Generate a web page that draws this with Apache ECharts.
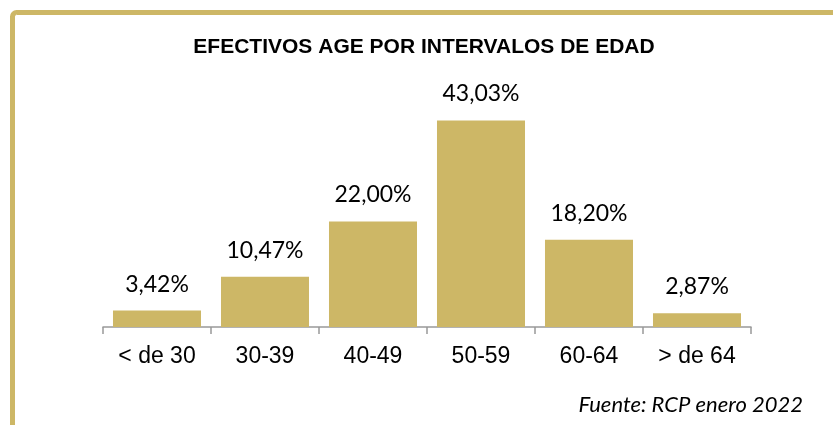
<!DOCTYPE html>
<html><head><meta charset="utf-8">
<script src="https://cdn.jsdelivr.net/npm/echarts@6/dist/echarts.min.js"></script>
<style>html,body{margin:0;padding:0;background:#fff}#c{width:833px;height:425px}</style>
</head><body><div id="c"></div>
<script>
var categories = ['< de 30', '30-39', '40-49', '50-59', '60-64', '> de 64'];
var values = [3.42, 10.47, 22.00, 43.03, 18.20, 2.87];
var titleText = 'EFECTIVOS AGE POR INTERVALOS DE EDAD';
var sourceText = 'Fuente: RCP enero 2022';

var chart = echarts.init(document.getElementById('c'), null, {renderer: 'canvas'});
chart.setOption({
  animation: false,
  title: {
    text: titleText, left: 419, top: 32, textAlign: 'center',
    textStyle: {fontFamily: 'Liberation Sans, Arial', fontWeight: 'bold', fontSize: 21, color: '#000'}
  },
  graphic: [
    {type: 'rect', shape: {x: 12.5, y: 12.5, width: 900, height: 500, r: 4},
     style: {fill: 'none', stroke: '#CDB766', lineWidth: 5}, z: 10},
    {type: 'text', right: 30, top: 394,
     style: {text: sourceText, fontFamily: 'Lato, Open Sans', fontStyle: 'italic', fontSize: 22, fill: '#000'}}
  ],
  grid: {left: 103, right: 82, top: 87, bottom: 98},
  xAxis: {
    type: 'category', data: categories,
    axisLine: {lineStyle: {color: '#999', width: 1.5}},
    axisTick: {show: true, length: 7, lineStyle: {color: '#999', width: 1.5}},
    axisLabel: {fontFamily: 'Liberation Sans, Arial', fontSize: 23, color: '#000', margin: 18}
  },
  yAxis: {type: 'value', min: 0, max: 50, show: false, splitLine: {show: false}},
  series: [{
    type: 'bar', data: values, barCategoryGap: '18.5%',
    itemStyle: {color: '#CDB766'},
    label: {
      show: true, position: 'top', distance: 15,
      fontFamily: 'Lato, Open Sans', fontSize: 23, color: '#000',
      formatter: function (p) { return p.value.toFixed(2).replace('.', ',') + '%'; }
    }
  }]
});
</script></body></html>
